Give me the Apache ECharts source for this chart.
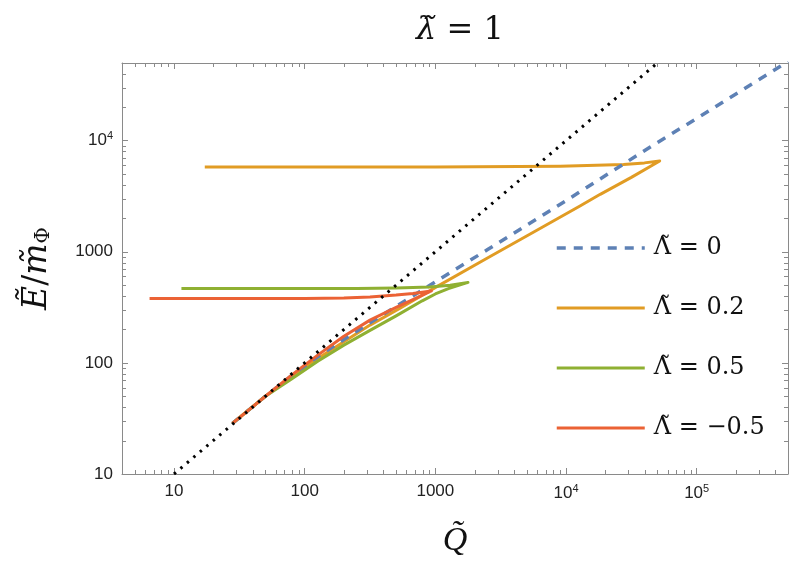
<!DOCTYPE html>
<html>
<head>
<meta charset="utf-8">
<script src="https://cdn.jsdelivr.net/npm/echarts@6/dist/echarts.min.js"></script>
<style>
html, body { margin: 0; padding: 0; background: #fff; }
#chart { width: 797px; height: 583px; }
</style>
</head>
<body>
<div id="chart"></div>
<script>
// axis ranges
var xRange = [4, 500000];
var yRange = [10, 50000];

// minor tick positions (log axes)
var xMinorTicks = [5, 6, 7, 8, 9, 20, 30, 40, 50, 60, 70, 80, 90, 200, 300, 400, 500, 600, 700, 800, 900,
  2000, 3000, 4000, 5000, 6000, 7000, 8000, 9000, 20000, 30000, 40000, 50000, 60000, 70000, 80000, 90000,
  200000, 300000, 400000];
var yMinorTicks = [20, 30, 40, 50, 60, 70, 80, 90, 200, 300, 400, 500, 600, 700, 800, 900,
  2000, 3000, 4000, 5000, 6000, 7000, 8000, 9000, 20000, 30000, 40000];

// dotted guide E = Q
var guideQ = [10, 50000];
var guideE = [10, 50000];

// Λ = 0
var lam0Q = [28, 50.1, 79.4, 125.9, 199.5, 316.2, 501, 1000, 2512, 10000, 44157, 100000, 500000];
var lam0E = [28.6, 50.1, 76.7, 113.5, 162.2, 229.1, 322, 537, 1047, 2884, 8770, 15849, 51523];

// Λ = 0.2 (upper branch to cusp, then lower branch back)
var lam02Q = [17.2, 100, 1000, 9016, 27542, 39811, 52119, 31623, 18281, 12794, 5623, 2466, 1019, 533,
  316.2, 199.5, 125.9, 79.4, 50.1, 28];
var lam02E = [5808, 5808, 5808, 5888, 6095, 6310, 6561, 4677, 3289, 2582, 1500, 871, 483, 309,
  218.8, 154.9, 109.6, 75.0, 50.1, 28.6];

// Λ = 0.5
var lam05Q = [11.4, 251, 501, 906, 1300, 1778, 1259, 1000, 794, 501, 316.2, 199.5, 125.9, 79.4, 50.1, 28];
var lam05E = [468, 468, 473, 483, 500, 530, 466, 417, 362, 265, 196, 144.5, 103.5, 71.6, 50.1, 28.6];

// Λ = -0.5
var lamm05Q = [6.5, 100, 199.5, 316, 501, 674, 933, 674, 501, 316.2, 199.5, 125.9, 79.4, 50.1, 28];
var lamm05E = [380, 380, 384.6, 392.6, 407.4, 421.7, 444.6, 371.5, 316.2, 242.7, 173.8, 117.5, 77.6, 50.1, 28.6];

var legendNames = ['Λ̃ = 0', 'Λ̃ = 0.2', 'Λ̃ = 0.5', 'Λ̃ = −0.5'];
var colors = ['#5E81B5', '#E19C24', '#8FB032', '#EB6235'];

function zip(a, b) {
  return a.map(function (v, i) { return [v, b[i]]; });
}

function decadeLabel(v) {
  var e = Math.round(Math.log10(v));
  if (Math.abs(Math.log10(v) - e) > 1e-6) return '';
  if (e <= 3) return String(Math.pow(10, e));
  return '10{sup|' + e + '}';
}

var tickColor = '#8a8a8a';
var labelStyle = {
  color: '#222',
  fontFamily: 'Liberation Sans',
  fontSize: 17,
  formatter: decadeLabel,
  showMinLabel: true,
  showMaxLabel: true,
  rich: { sup: { fontSize: 11, fontFamily: 'Liberation Sans', color: '#222', padding: [0, 0, 9, 0] } }
};

function baseAxis(range, pos, withLabel) {
  return {
    type: 'log',
    logBase: 10,
    position: pos,
    min: range[0],
    max: range[1],
    splitLine: { show: false },
    axisLine: { show: true, onZero: false, lineStyle: { color: tickColor, width: 1 } },
    axisTick: { show: true, inside: true, length: 6, lineStyle: { color: tickColor } },
    axisLabel: withLabel ? labelStyle : { show: false }
  };
}

var xMain = baseAxis(xRange, 'bottom', true);
xMain.name = 'Q̃';
xMain.nameLocation = 'middle';
xMain.nameGap = 50;
xMain.nameTextStyle = { fontFamily: 'Liberation Serif', fontStyle: 'italic', fontSize: 34, color: '#111' };
xMain.axisLabel.margin = 9;

var yMain = baseAxis(yRange, 'left', true);
yMain.name = '{i|Ẽ}{n|/}{i|m̃}{s|Φ}';
yMain.nameLocation = 'middle';
yMain.nameRotate = 90;
yMain.nameGap = 68;
yMain.nameTextStyle = {
  color: '#111',
  rich: {
    i: { fontFamily: 'DejaVu Serif', fontStyle: 'italic', fontSize: 33, color: '#111' },
    n: { fontFamily: 'DejaVu Serif', fontSize: 33, color: '#111' },
    s: { fontFamily: 'DejaVu Serif', fontSize: 20, color: '#111', padding: [13, 0, 0, 0] }
  }
};

var xTop = baseAxis(xRange, 'top', false);
var yRight = baseAxis(yRange, 'right', false);

function minorTickSeries(values, isX) {
  return {
    type: 'custom',
    coordinateSystem: 'cartesian2d',
    xAxisIndex: 0,
    yAxisIndex: 0,
    silent: true,
    z: 1,
    data: values.map(function (v) { return [v]; }),
    encode: isX ? { x: 0 } : { y: 0 },
    renderItem: function (params, api) {
      var v = api.value(0);
      var st = { stroke: tickColor, lineWidth: 1 };
      if (isX) {
        var a = api.coord([v, yRange[0]]);
        var b = api.coord([v, yRange[1]]);
        var x = Math.round(a[0]) + 0.5;
        return { type: 'group', children: [
          { type: 'line', shape: { x1: x, y1: a[1], x2: x, y2: a[1] - 4 }, style: st },
          { type: 'line', shape: { x1: x, y1: b[1], x2: x, y2: b[1] + 4 }, style: st }
        ] };
      }
      var c = api.coord([xRange[0], v]);
      var d = api.coord([xRange[1], v]);
      var y = Math.round(c[1]) + 0.5;
      return { type: 'group', children: [
        { type: 'line', shape: { x1: c[0], y1: y, x2: c[0] + 4, y2: y }, style: st },
        { type: 'line', shape: { x1: d[0], y1: y, x2: d[0] - 4, y2: y }, style: st }
      ] };
    }
  };
}

function curve(name, q, e, color, width, type) {
  return {
    name: name,
    type: 'line',
    data: zip(q, e),
    showSymbol: false,
    symbol: 'none',
    clip: true,
    lineStyle: { color: color, width: width, type: type || 'solid', join: 'round' },
    itemStyle: { color: color },
    emphasis: { disabled: true }
  };
}

var legendData = legendNames.map(function (n, i) {
  return {
    name: n,
    itemStyle: { opacity: 0 },
    lineStyle: i === 0 ? { width: 3.5, type: [9, 8], color: colors[0] } : { width: 3, color: colors[i] }
  };
});

var chart = echarts.init(document.getElementById('chart'), null, { renderer: 'canvas' });
chart.setOption({
  animation: false,
  backgroundColor: '#fff',
  title: {
    text: '{i|λ̃}{n| = 1}',
    left: 455,
    textAlign: 'center',
    top: 10,
    textStyle: {
      fontWeight: 'normal',
      rich: {
        i: { fontFamily: 'DejaVu Serif', fontStyle: 'italic', fontWeight: 'normal', fontSize: 32, color: '#111' },
        n: { fontFamily: 'DejaVu Serif', fontWeight: 'normal', fontSize: 32, color: '#111' }
      }
    }
  },
  grid: { left: 122, right: 9, top: 63, bottom: 109, containLabel: false },
  legend: {
    data: legendData,
    orient: 'vertical',
    left: 550,
    top: 228,
    itemWidth: 88,
    itemHeight: 14,
    itemGap: 30,
    itemStyle: { opacity: 0 },
    textStyle: { fontFamily: 'DejaVu Serif', fontSize: 24, color: '#111', lineHeight: 30, padding: [0, 0, 0, 4] }
  },
  xAxis: [xMain, xTop],
  yAxis: [yMain, yRight],
  series: [
    minorTickSeries(xMinorTicks, true),
    minorTickSeries(yMinorTicks, false),
    curve(legendNames[1], lam02Q, lam02E, colors[1], 3),
    curve(legendNames[0], lam0Q, lam0E, colors[0], 3.5, [9, 8]),
    curve(legendNames[2], lam05Q, lam05E, colors[2], 3),
    curve(legendNames[3], lamm05Q, lamm05E, colors[3], 3),
    {
      name: 'guide',
      type: 'line',
      data: zip(guideQ, guideE),
      symbol: 'none',
      lineStyle: { color: '#000', width: 3, type: [2.5, 6] },
      emphasis: { disabled: true }
    }
  ]
});
</script>
</body>
</html>
